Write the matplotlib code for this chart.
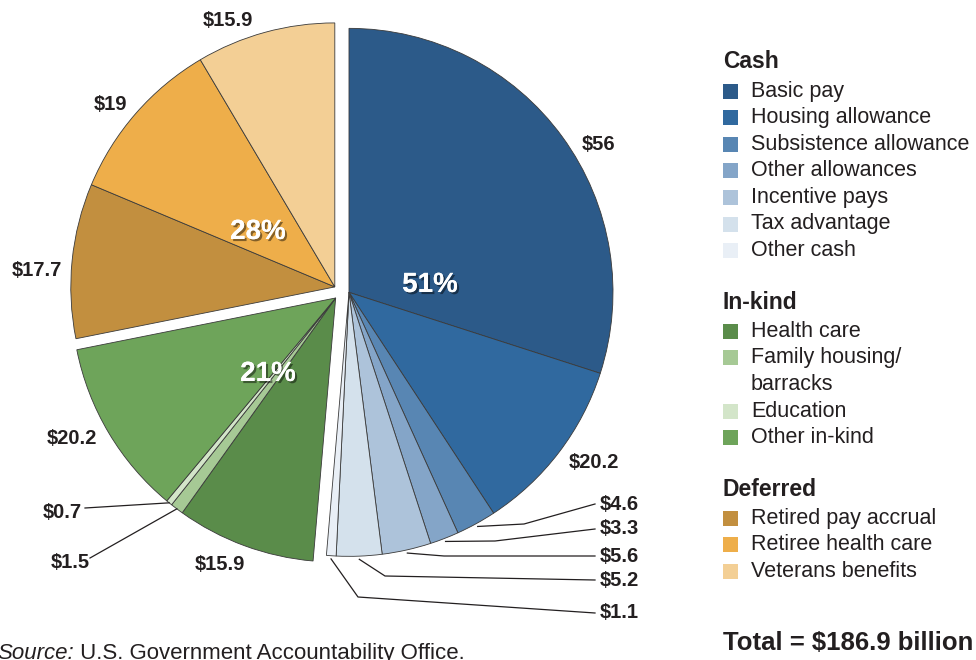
import numpy as np
import matplotlib.pyplot as plt
from matplotlib.patches import Rectangle
import matplotlib.patheffects as pe

plt.rcParams['font.family'] = ['Liberation Sans', 'DejaVu Sans']

# data, in billions of dollars, clockwise from 12 o'clock
categories = ['Basic pay', 'Housing allowance', 'Subsistence allowance', 'Other allowances',
              'Incentive pays', 'Tax advantage', 'Other cash',
              'Health care', 'Family housing/\nbarracks', 'Education', 'Other in-kind',
              'Retired pay accrual', 'Retiree health care', 'Veterans benefits']
values = [56, 20.2, 4.6, 3.3, 5.6, 5.2, 1.1,
          15.9, 1.5, 0.7, 20.2,
          17.7, 19, 15.9]
groups = ['Cash'] * 7 + ['In-kind'] * 4 + ['Deferred'] * 3
group_names = ['Cash', 'In-kind', 'Deferred']
group_pct = ['51%', '21%', '28%']
total_label = 'Total = $186.9 billion'

colors = ['#2c5a89', '#30699f', '#5886b3', '#84a5c8', '#adc3da', '#d4e1ec', '#e9eff6',
          '#5a8c4a', '#a6c995', '#d3e5c9', '#6ea45a',
          '#c28f3f', '#eeae4a', '#f3cf95']

W, H = 976, 660
TXT = '#231f20'


def Y(y):
    # screen y (from top) -> data y
    return H - y


fig = plt.figure(figsize=(W / 100, H / 100), dpi=100)
ax = fig.add_axes([0, 0, 1, 1])

wedges = ax.pie(values, colors=colors, startangle=90, counterclock=False,
                center=(341, Y(292)), radius=264,
                wedgeprops=dict(edgecolor='#3a3a3a', linewidth=0.6))[0]

# pull each group out as one block
gap = 8
for g in group_names:
    ws = [w for w, gg in zip(wedges, groups) if gg == g]
    mid = np.deg2rad((min(w.theta1 for w in ws) + max(w.theta2 for w in ws)) / 2)
    for w in ws:
        cx, cy = w.center
        w.set_center((cx + gap * np.cos(mid), cy + gap * np.sin(mid)))

ax.set_xlim(0, W)
ax.set_ylim(0, H)
ax.set_aspect('equal')
ax.axis('off')


def arc_point(w, f=1.0):
    t = np.deg2rad((w.theta1 + w.theta2) / 2)
    cx, cy = w.center
    return cx + w.r * f * np.cos(t), cy + w.r * f * np.sin(t)


def money(v):
    return '$%g' % v


lab_kw = dict(fontsize=14.5, fontweight='bold', color=TXT, va='center')

# labels placed directly beside larger slices
direct = {0: (599, 144), 1: (594, 463), 7: (220, 565), 10: (72, 438),
          11: (37, 271), 12: (110, 104), 13: (228, 20)}
for i, (x, y) in direct.items():
    ax.text(x, Y(y), money(values[i]), ha='center', **lab_kw)

# small cash slices: elbow leaders to the right
small_cash = [2, 3, 4, 5, 6]
elbows = [(524, 524), (495, 541), (444, 556), (385, 576), (358, 597)]
label_y = [504, 529, 556, 580, 613]
for i, (ex, ey), ly in zip(small_cash, elbows, label_y):
    sx, sy = arc_point(wedges[i], 1.012)
    ax.plot([sx, ex, 595], [sy, Y(ey), Y(ly)], color=TXT, lw=0.9)
    ax.text(600, Y(ly), money(values[i]), ha='left', **lab_kw)

# tiny in-kind slices: straight leaders to the left
for i, (lx, ly), (tx, ty) in zip([9, 8], [(85, 508), (90, 558)], [(62, 512), (70, 563)]):
    sx, sy = arc_point(wedges[i], 1.0)
    ax.plot([lx, sx], [Y(ly), sy], color=TXT, lw=0.9)
    ax.text(tx, Y(ty), money(values[i]), ha='center', **lab_kw)

# group percentages
pct_pos = [(430, 285), (268, 374), (258, 232)]
for txt, (x, y) in zip(group_pct, pct_pos):
    ax.text(x, Y(y), txt, ha='center', va='center', fontsize=20, fontweight='bold',
            color='white',
            path_effects=[pe.withSimplePatchShadow(offset=(1.5, -1.5), shadow_rgbFace='#000000',
                                                   alpha=0.45), pe.Normal()])

# legend
ly = 62
for g in group_names:
    ax.text(723, Y(ly), g, fontsize=16.5, fontweight='bold', color=TXT,
            ha='left', va='center')
    ly += 29
    for cat, col, gg in zip(categories, colors, groups):
        if gg != g:
            continue
        ax.add_patch(Rectangle((723, Y(ly) - 7.5), 15, 15, facecolor=col, edgecolor='none'))
        for line in cat.split('\n'):
            ax.text(751, Y(ly), line, fontsize=15.5, color=TXT, ha='left', va='center')
            ly += 26.6
    ly += 25

ax.text(723, Y(643), total_label, fontsize=18.5, fontweight='bold', color=TXT,
        ha='left', va='center')

t1 = ax.text(-3, Y(664), 'Source:', fontsize=16, style='italic', color=TXT,
             ha='left', va='bottom')
ax.annotate(' U.S. Government Accountability Office.', xy=(1, 0), xycoords=t1,
            fontsize=16, color=TXT, ha='left', va='bottom')

fig.savefig('out.png', dpi=100)
